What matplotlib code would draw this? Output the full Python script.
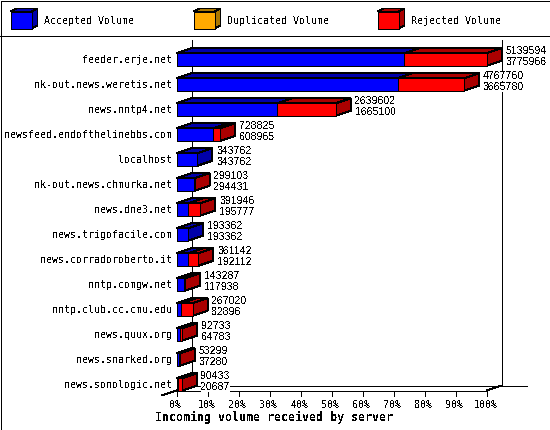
import matplotlib
matplotlib.use("Agg")
import matplotlib.pyplot as plt
from matplotlib.patches import Polygon, Rectangle

servers = ["feeder.erje.net", "nk-out.news.weretis.net", "news.nntp4.net",
           "newsfeed.endofthelinebbs.com", "localhost", "nk-out.news.chmurka.net",
           "news.dne3.net", "news.trigofacile.com", "news.corradoroberto.it",
           "nntp.comgw.net", "nntp.club.cc.cmu.edu", "news.quux.org",
           "news.snarked.org", "news.sonologic.net"]
offered = [5139594, 4767760, 2639602, 728825, 343762, 299103, 391946, 193362,
           361142, 143287, 267020, 92733, 53299, 90433]
accepted = [3775966, 3665780, 1665100, 608965, 343762, 294431, 195777, 193362,
            192112, 117938, 82896, 64783, 37280, 20687]
pct_ticks = list(range(0, 101, 10))
legend_labels = ["Accepted Volume", "Duplicated Volume", "Rejected Volume"]
title = "Incoming volume received by server"

W, H = 550, 430
plt.rcParams["text.antialiased"] = False
plt.rcParams["font.family"] = "DejaVu Sans Mono"
fig = plt.figure(figsize=(W / 100, H / 100), dpi=100, facecolor="white")

ov = fig.add_axes([0, 0, 1, 1], zorder=5)
ov.set_xlim(0, W)
ov.set_ylim(H, 0)
ov.axis("off")
ov.patch.set_alpha(0)

L, R, T, B = 176.5, 486.5, 45.0, 390.5
ax = fig.add_axes([L / W, 1 - B / H, (R - L) / W, (B - T) / H], zorder=2)
rowh = 25.0
cy0 = 59.5
ax.set_xlim(0, 100)
ax.set_ylim((B - cy0) / rowh, (T - cy0) / rowh)
ax.axis("off")

px = 100 / (R - L)
py = 1 / rowh
dx, dy = 15 * px, -5 * py
half = 6.25 * py
LW = 0.72


def P(pts, fc, z):
    ax.add_patch(Polygon(pts, closed=True, fc=fc, ec="black", lw=LW, zorder=z,
                         clip_on=False, antialiased=False, joinstyle="miter"))


def segment(x0, x1, y, front, top, side, z):
    P([(x0, y - half), (x0 + dx, y - half + dy), (x1 + dx, y - half + dy), (x1, y - half)], top, z)
    P([(x1, y - half), (x1 + dx, y - half + dy), (x1 + dx, y + half + dy), (x1, y + half)], side, z)
    P([(x0, y - half), (x1, y - half), (x1, y + half), (x0, y + half)], front, z)


BLUE = ("#0000FF", "#0000AA", "#0000AA")
RED = ("#FF0000", "#AA0000", "#AA0000")
ORANGE = ("#FFAA00", "#AA7700", "#AA7700")

line_kw = dict(color="black", lw=LW, clip_on=False, antialiased=False, solid_capstyle="butt")
ymin, ymax = ax.get_ylim()
ax.plot([dx, dx], [ymin + dy, ymax + dy], zorder=1, **line_kw)
ax.plot([100 + dx, 100 + dx], [ymin + dy, ymax + dy], zorder=1, **line_kw)
ax.plot([dx, 100 + dx + 25 * px], [ymin + dy, ymin + dy], zorder=1, **line_kw)
ax.plot([0, 100], [ymin, ymin], zorder=1, **line_kw)
ax.plot([100, 100 + dx], [ymin, ymin + dy], zorder=1, **line_kw)
ax.plot([-dx, dx], [ymin - dy, ymin + dy], zorder=1, **line_kw)
for t in pct_ticks:
    ax.plot([t, t], [ymin, ymin + 5 * py], zorder=1, **line_kw)
    ax.text(t - 0.8 * px, ymin + 14.5 * py, f"{t}%", ha="center", va="center", fontsize=7.2, clip_on=False)

top_val = max(offered)
for i, (name, o, a) in enumerate(zip(servers, offered, accepted)):
    pa = a / top_val * 100
    po = o / top_val * 100
    z = 10 + i
    segment(0, pa, i, *BLUE, z)
    if o > a:
        segment(pa, po, i, *RED, z + 0.5)
    ax.text(-4.5 * px, i + 0.3 * py, name, ha="right", va="center", fontsize=7.2, clip_on=False, zorder=40)
    xt = po + dx + 4 * px
    bb = dict(fc="white", ec="none", pad=0)
    ax.text(xt, i - 8.7 * py, str(o), ha="left", va="center", fontsize=7.6, family="Liberation Sans",
            bbox=bb, clip_on=False, zorder=40)
    ax.text(xt, i + 2.3 * py, str(a), ha="left", va="center", fontsize=7.6, family="Liberation Sans",
            bbox=bb, clip_on=False, zorder=40)

ov.text(274, 417, title, ha="center", va="center", fontsize=8.4, fontweight="bold")

ov.add_patch(Rectangle((0.5, 0.5), W - 1, H - 1, fc="none", ec="black", lw=LW, antialiased=False))
ov.plot([0, W], [35.5, 35.5], color="black", lw=LW, antialiased=False)

for x0, lab, (front, top, side) in zip([10.5, 193.5, 377.5], legend_labels, [BLUE, ORANGE, RED]):
    x1 = x0 + 21
    y0, y1 = 11.5, 28.5
    kw = dict(closed=True, ec="black", lw=LW, antialiased=False)
    ov.add_patch(Polygon([(x0, y0), (x0 + 6, y0 - 3), (x1 + 6, y0 - 3), (x1, y0)], fc=top, **kw))
    ov.add_patch(Polygon([(x1, y0), (x1 + 6, y0 - 3), (x1 + 6, y1 - 3), (x1, y1)], fc=side, **kw))
    ov.add_patch(Polygon([(x0, y0), (x1, y0), (x1, y1), (x0, y1)], fc=front, **kw))
    ov.text(x0 + 33.5, 20.8, lab, ha="left", va="center", fontsize=7.2)

fig.savefig("out.png", dpi=100, facecolor="white")
